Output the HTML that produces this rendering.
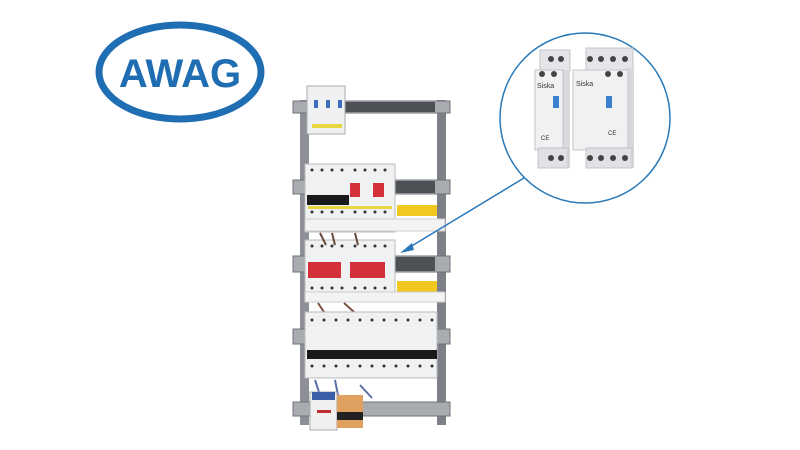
<!DOCTYPE html>
<html><head><style>body{margin:0;background:#fff}svg{display:block}</style></head><body>
<svg width="800" height="450" viewBox="0 0 800 450" xmlns="http://www.w3.org/2000/svg">
<rect width="800" height="450" fill="#fff"/>
<!-- logo -->
<ellipse cx="180" cy="72" rx="81" ry="47" fill="none" stroke="#1f6db3" stroke-width="7"/>
<text x="180" y="87" font-family="Liberation Sans, sans-serif" font-weight="bold" font-size="40" fill="#1f6db3" text-anchor="middle">AWAG</text>
<!-- frame -->
<rect x="300" y="100" width="9" height="325" fill="#8c9096"/>
<rect x="437" y="100" width="9" height="325" fill="#7d8187"/>
<g fill="#a8acb1" stroke="#6f7378" stroke-width="1">
<rect x="293" y="101" width="157" height="12"/>
<rect x="293" y="180" width="157" height="14"/>
<rect x="293" y="256" width="157" height="16"/>
<rect x="293" y="329" width="157" height="15"/>
<rect x="293" y="402" width="157" height="14"/>
</g>
<g fill="#4d5155">
<rect x="340" y="102" width="95" height="10"/><rect x="395" y="181" width="40" height="12"/><rect x="395" y="257" width="40" height="14"/>
</g>
<!-- top module -->
<rect x="307" y="86" width="38" height="48" fill="#eef0f2" stroke="#aaa"/>
<rect x="312" y="124" width="30" height="4" fill="#e8d640"/>
<rect x="314" y="100" width="4" height="8" fill="#3a6fc0"/><rect x="326" y="100" width="4" height="8" fill="#3a6fc0"/><rect x="338" y="100" width="4" height="8" fill="#3a6fc0"/>
<!-- row 2 -->
<rect x="305" y="164" width="90" height="68" fill="#f0f1f2" stroke="#bbb"/>
<g fill="#333"><circle cx="312" cy="170" r="1.5"/><circle cx="322" cy="170" r="1.5"/><circle cx="332" cy="170" r="1.5"/><circle cx="342" cy="170" r="1.5"/><circle cx="355" cy="170" r="1.5"/><circle cx="365" cy="170" r="1.5"/><circle cx="375" cy="170" r="1.5"/><circle cx="385" cy="170" r="1.5"/>
<circle cx="312" cy="212" r="1.5"/><circle cx="322" cy="212" r="1.5"/><circle cx="332" cy="212" r="1.5"/><circle cx="342" cy="212" r="1.5"/><circle cx="355" cy="212" r="1.5"/><circle cx="365" cy="212" r="1.5"/><circle cx="375" cy="212" r="1.5"/><circle cx="385" cy="212" r="1.5"/></g>
<rect x="307" y="195" width="42" height="10" fill="#1a1a1a"/>
<rect x="350" y="183" width="10" height="14" fill="#d4303a"/><rect x="373" y="183" width="11" height="14" fill="#d4303a"/>
<rect x="308" y="206" width="84" height="3" fill="#e8d640"/>
<rect x="397" y="205" width="40" height="11" fill="#f0c820"/>
<rect x="305" y="219" width="140" height="12" fill="#f3f3f3" stroke="#ccc"/>
<!-- row 3 -->
<rect x="305" y="240" width="90" height="62" fill="#f0f1f2" stroke="#bbb"/>
<g fill="#333"><circle cx="312" cy="246" r="1.5"/><circle cx="322" cy="246" r="1.5"/><circle cx="332" cy="246" r="1.5"/><circle cx="342" cy="246" r="1.5"/><circle cx="355" cy="246" r="1.5"/><circle cx="365" cy="246" r="1.5"/><circle cx="375" cy="246" r="1.5"/><circle cx="385" cy="246" r="1.5"/>
<circle cx="312" cy="288" r="1.5"/><circle cx="322" cy="288" r="1.5"/><circle cx="332" cy="288" r="1.5"/><circle cx="342" cy="288" r="1.5"/><circle cx="355" cy="288" r="1.5"/><circle cx="365" cy="288" r="1.5"/><circle cx="375" cy="288" r="1.5"/><circle cx="385" cy="288" r="1.5"/></g>
<rect x="308" y="262" width="33" height="16" fill="#d4303a"/><rect x="350" y="262" width="35" height="16" fill="#d4303a"/>
<rect x="397" y="281" width="40" height="11" fill="#f0c820"/>
<rect x="305" y="292" width="140" height="10" fill="#f3f3f3" stroke="#ccc"/>
<!-- wires -->
<path d="M320 233 L326 245 M332 233 L335 245 M355 233 L358 245" stroke="#6a4a3a" stroke-width="2"/>
<path d="M318 303 L324 312 M344 303 L354 312" stroke="#7a5040" stroke-width="2"/>
<!-- row 4 -->
<rect x="305" y="312" width="132" height="66" fill="#f0f1f2" stroke="#bbb"/>
<g fill="#333"><circle cx="312" cy="320" r="1.5"/><circle cx="324" cy="320" r="1.5"/><circle cx="336" cy="320" r="1.5"/><circle cx="348" cy="320" r="1.5"/><circle cx="360" cy="320" r="1.5"/><circle cx="372" cy="320" r="1.5"/><circle cx="384" cy="320" r="1.5"/><circle cx="396" cy="320" r="1.5"/><circle cx="408" cy="320" r="1.5"/><circle cx="420" cy="320" r="1.5"/><circle cx="432" cy="320" r="1.5"/>
<circle cx="312" cy="366" r="1.5"/><circle cx="324" cy="366" r="1.5"/><circle cx="336" cy="366" r="1.5"/><circle cx="348" cy="366" r="1.5"/><circle cx="360" cy="366" r="1.5"/><circle cx="372" cy="366" r="1.5"/><circle cx="384" cy="366" r="1.5"/><circle cx="396" cy="366" r="1.5"/><circle cx="408" cy="366" r="1.5"/><circle cx="420" cy="366" r="1.5"/><circle cx="432" cy="366" r="1.5"/></g>
<rect x="307" y="350" width="130" height="9" fill="#1a1a1a"/>
<!-- bottom -->
<path d="M315 380 L320 395 M335 380 L338 395 M360 385 L372 398" stroke="#5a6fa8" stroke-width="2"/>
<rect x="310" y="392" width="27" height="38" fill="#f0f0f0" stroke="#aaa"/>
<rect x="312" y="392" width="23" height="8" fill="#3a5fa8"/>
<rect x="317" y="410" width="14" height="3" fill="#c03030"/>
<rect x="337" y="395" width="26" height="33" fill="#e0a060"/>
<rect x="337" y="412" width="26" height="8" fill="#222"/>
<!-- callout -->
<line x1="524" y1="178" x2="405" y2="250" stroke="#2a78b8" stroke-width="1.5"/>
<path d="M400 253 L412 243 L414 250 Z" fill="#2a78b8"/>
<circle cx="585" cy="118" r="85" fill="#fff" stroke="#2a7ab8" stroke-width="1.5"/>
<!-- left module -->
<rect x="540" y="50" width="30" height="22" fill="#e4e5e8" stroke="#c4c4c4"/>
<rect x="562" y="70" width="8" height="98" fill="#d8d9dc"/>
<rect x="535" y="70" width="28" height="80" fill="#f0f1f3" stroke="#c4c4c4"/>
<rect x="538" y="148" width="30" height="20" fill="#e0e1e4" stroke="#c4c4c4"/>
<g fill="#444"><circle cx="551" cy="59" r="3"/><circle cx="561" cy="59" r="3"/><circle cx="542" cy="74" r="3"/><circle cx="554" cy="74" r="3"/><circle cx="551" cy="158" r="3"/><circle cx="561" cy="158" r="3"/></g>
<rect x="553" y="96" width="6" height="12" fill="#3a80d0"/>
<text x="537" y="88" font-family="Liberation Sans, sans-serif" font-size="7" fill="#333">Siska</text>
<text x="541" y="140" font-family="Liberation Sans, sans-serif" font-size="6" fill="#333">CE</text>
<!-- right module -->
<rect x="586" y="48" width="47" height="22" fill="#e4e5e8" stroke="#c4c4c4"/>
<rect x="626" y="68" width="8" height="100" fill="#d8d9dc"/>
<rect x="573" y="70" width="55" height="80" fill="#f0f1f3" stroke="#c4c4c4"/>
<rect x="586" y="148" width="46" height="20" fill="#e0e1e4" stroke="#c4c4c4"/>
<g fill="#444"><circle cx="590" cy="59" r="3"/><circle cx="601" cy="59" r="3"/><circle cx="613" cy="59" r="3"/><circle cx="625" cy="59" r="3"/><circle cx="608" cy="74" r="3"/><circle cx="620" cy="74" r="3"/><circle cx="590" cy="158" r="3"/><circle cx="601" cy="158" r="3"/><circle cx="613" cy="158" r="3"/><circle cx="625" cy="158" r="3"/></g>
<rect x="606" y="96" width="6" height="12" fill="#3a80d0"/>
<text x="576" y="86" font-family="Liberation Sans, sans-serif" font-size="7" fill="#333">Siska</text>
<text x="608" y="135" font-family="Liberation Sans, sans-serif" font-size="6" fill="#333">CE</text>
</svg>
</body></html>
